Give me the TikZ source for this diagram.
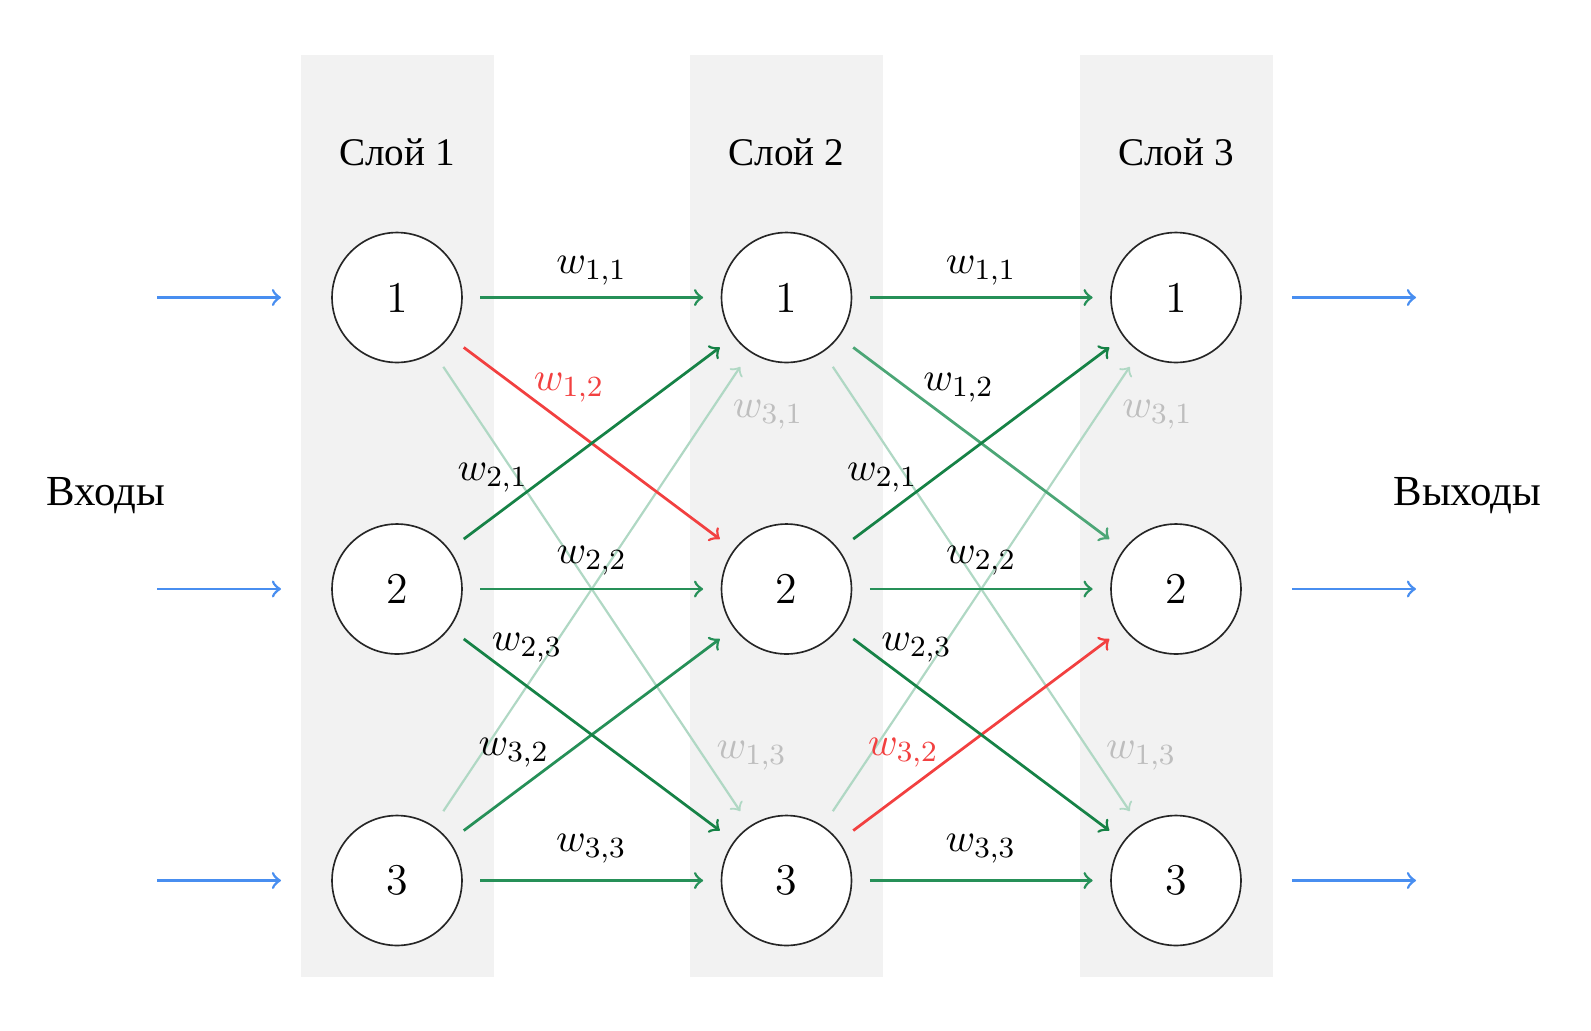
\documentclass[tikz,border=0pt]{standalone}
\usepackage{fontspec}
\newfontfamily\cyr{Liberation Serif}
\definecolor{bgcol}{RGB}{242,242,242}
\definecolor{dgreen}{RGB}{22,130,70}
\definecolor{mgreen}{RGB}{38,144,88}
\definecolor{lgreen}{RGB}{76,166,118}
\definecolor{fgreen}{RGB}{176,216,196}
\definecolor{redc}{RGB}{242,64,64}
\definecolor{bluec}{RGB}{72,142,240}
\definecolor{graylab}{RGB}{190,190,190}
\begin{document}
\begin{tikzpicture}[x=0.2732pt,y=-0.2732pt,
  neuron/.style={circle, draw=black!85, line width=0.45pt, minimum size=35.5pt, inner sep=0pt, fill=white, font=\large},
  conn/.style={->, line width=0.75pt, shorten <=4.8pt, shorten >=4.8pt},
  faintconn/.style={conn, draw=fgreen, line width=0.6pt},
  wlab/.style={anchor=base, font=\fontsize{11.4}{13}\selectfont, inner sep=0pt},
  title/.style={anchor=base, font=\cyr\fontsize{10.7}{13}\selectfont, inner sep=0pt},
  side/.style={anchor=base, font=\cyr\fontsize{11.7}{14}\selectfont, inner sep=0pt},
  io/.style={->, draw=bluec, line width=0.75pt}]
\useasboundingbox (0,0) rectangle (1591,1030);
% layer columns
\foreach \l/\x in {1/397,2/786.5,3/1176} {
  \fill[bgcol] (\x-96.5,55) rectangle (\x+96.5,977);
  \node[title] (t\l) at (\x,165) {Слой \l};
}
% neurons
\foreach \l/\x in {1/397,2/786.5,3/1176} {
  \foreach \r/\y in {1/297.5,2/589,3/880.5} {
    \node[neuron] (n\l\r) at (\x,\y) {\r};
  }
}
% faint connections
\draw[faintconn] (n11) -- (n23);
\draw[faintconn] (n13) -- (n21);
\draw[faintconn] (n21) -- (n33);
\draw[faintconn] (n23) -- (n31);
% layer 1 -> 2
\draw[conn, draw=mgreen] (n11) -- (n21);
\draw[conn, draw=mgreen] (n12) -- (n22);
\draw[conn, draw=mgreen] (n13) -- (n23);
\draw[conn, draw=mgreen] (n13) -- (n22);
\draw[conn, draw=redc] (n11) -- (n22);
\draw[conn, draw=dgreen] (n12) -- (n21);
\draw[conn, draw=dgreen] (n12) -- (n23);
% layer 2 -> 3
\draw[conn, draw=mgreen] (n21) -- (n31);
\draw[conn, draw=mgreen] (n22) -- (n32);
\draw[conn, draw=mgreen] (n23) -- (n33);
\draw[conn, draw=lgreen] (n21) -- (n32);
\draw[conn, draw=redc] (n23) -- (n32);
\draw[conn, draw=dgreen] (n22) -- (n31);
\draw[conn, draw=dgreen] (n22) -- (n33);
% weight labels
\foreach \k/\d in {a/0,b/389.5} {
  \node[wlab] (\k11) at (591.5+\d,273) {$w_{1,1}$};
  \node[wlab] (\k13) at (751.7+\d,758.3) {\color{graylab}$w_{1,3}$};
  \node[wlab] (\k21) at (492.8+\d,480.5) {$w_{2,1}$};
  \node[wlab] (\k22) at (591.7+\d,563.3) {$w_{2,2}$};
  \node[wlab] (\k23) at (527+\d,650) {$w_{2,3}$};
  \node[wlab] (\k31) at (768+\d,417.5) {\color{graylab}$w_{3,1}$};
  \node[wlab] (\k33) at (591.3+\d,851.7) {$w_{3,3}$};
}
\node[wlab] (a12) at (569,390) {\color{redc}$w_{1,2}$};
\node[wlab] (a32) at (513.8,755) {$w_{3,2}$};
\node[wlab] (b12) at (958.5,390) {$w_{1,2}$};
\node[wlab] (b32) at (903.3,755) {\color{redc}$w_{3,2}$};
% inputs and outputs
\foreach \r/\y in {1/297.5,2/589,3/880.5} {
  \coordinate (is\r) at (157,\y);
  \coordinate (ie\r) at (281,\y);
  \coordinate (os\r) at (1292,\y);
  \coordinate (oe\r) at (1416,\y);
  \draw[io] (is\r) -- (ie\r);
  \draw[io] (os\r) -- (oe\r);
}
\node[side] (inp) at (106,505) {Входы};
\node[side] (outp) at (1467.5,505) {Выходы};
\end{tikzpicture}
\end{document}
